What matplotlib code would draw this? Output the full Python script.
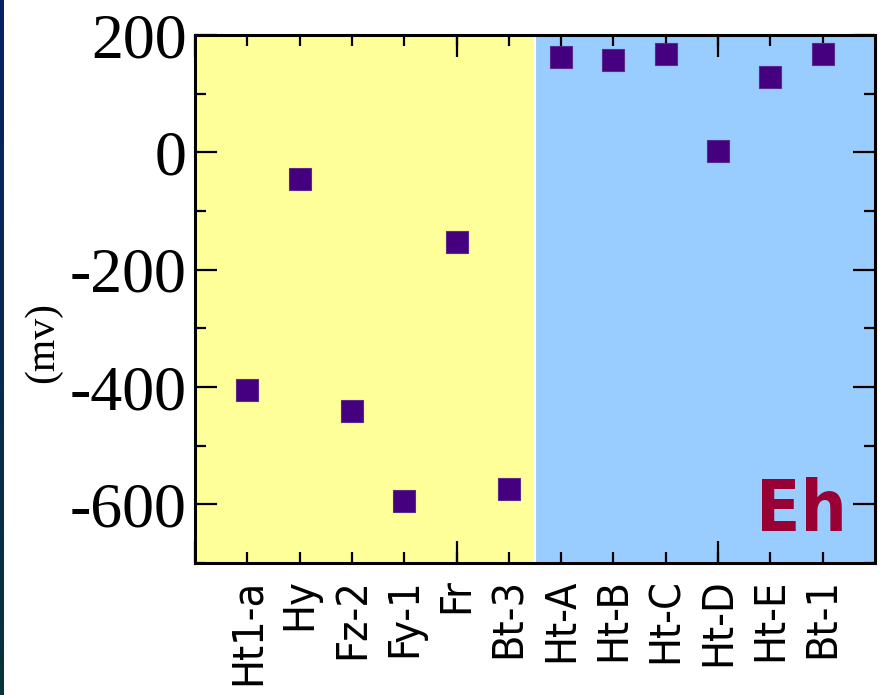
import numpy as np
import matplotlib.pyplot as plt
from matplotlib.ticker import MultipleLocator, FixedLocator
from matplotlib.colors import LinearSegmentedColormap

plt.rcParams['axes.unicode_minus'] = False

# sample names and Eh readings (mV)
samples = ['Ht1-a', 'Hy', 'Fz-2', 'Fy-1', 'Fr', 'Bt-3',
           'Ht-A', 'Ht-B', 'Ht-C', 'Ht-D', 'Ht-E', 'Bt-1']
eh_mv = [-405, -46, -441, -594, -153, -574,
         163, 158, 167, 2, 128, 168]
n_left = 6  # first group (yellow)

fig = plt.figure(figsize=(8.81, 6.95), dpi=100)

# thin dark strip on the left edge
strip = fig.add_axes([0, 0, 4 / 881, 1])
grad = np.linspace(0, 1, 256).reshape(-1, 1)
cm = LinearSegmentedColormap.from_list('edge', ['#0a1f66', '#06333a'])
strip.imshow(grad, aspect='auto', cmap=cm)
strip.axis('off')

ax = fig.add_axes([195 / 881, 1 - 563 / 695, 680 / 881, 528 / 695])
x = np.arange(1, len(samples) + 1)

ax.axvspan(0, n_left + 0.5, color='#ffff99', zorder=0)
ax.axvspan(n_left + 0.5, len(samples) + 1, color='#99ccff', zorder=0)
ax.axvline(n_left + 0.5, color='white', lw=1.5, zorder=1)

ax.plot(x, eh_mv, 's', color='#44007f', markersize=16, mec='#5a2a90',
        mew=0.8, zorder=3)

ax.set_xlim(0, len(samples) + 1)
ax.set_ylim(-700, 200)

ax.xaxis.remove_overlapping_locs = False
ax.xaxis.set_major_locator(FixedLocator([0, 5, 10]))
ax.xaxis.set_major_formatter(plt.NullFormatter())
ax.set_xticks(x, minor=True)
ax.set_xticklabels(samples, minor=True, rotation=90, fontsize=31,
                   family='DejaVu Sans', fontstretch='condensed')

ax.yaxis.set_major_locator(MultipleLocator(200))
ax.yaxis.set_minor_locator(MultipleLocator(100))
for lab in ax.get_yticklabels():
    lab.set_family('Liberation Serif')
    lab.set_fontsize(46)

ax.tick_params(which='both', direction='in', top=True, right=True, width=1.6)
ax.tick_params(which='major', length=16)
ax.tick_params(which='minor', length=8)
ax.tick_params(axis='y', which='major', pad=6)
ax.tick_params(axis='x', which='minor', pad=11)

for s in ax.spines.values():
    s.set_linewidth(2.2)

ax.set_ylabel('(mv)', family='Liberation Serif', fontsize=30)
ax.yaxis.set_label_coords(-0.195, 0.417)

ax.text(0.958, 0.032, 'Eh', transform=ax.transAxes, ha='right', va='bottom',
        fontsize=52, fontweight='bold', color='#990033',
        family='DejaVu Sans', fontstretch='condensed')

fig.savefig('out.png', dpi=100)
